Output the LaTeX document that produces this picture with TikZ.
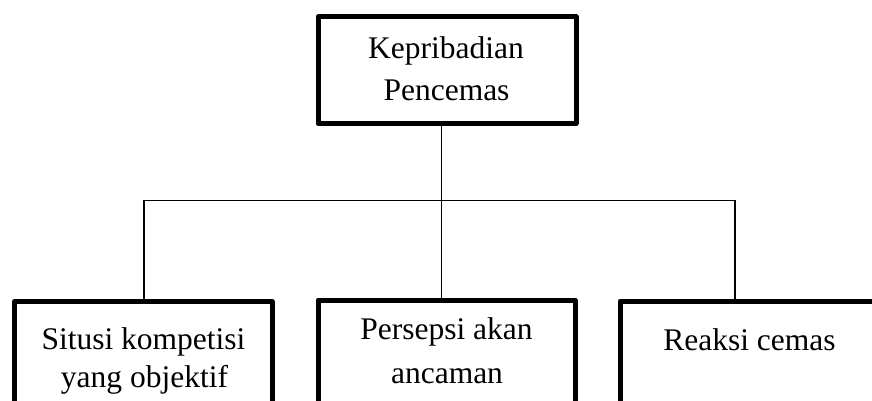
\documentclass[tikz,border=0pt]{standalone}
\usepackage{fontspec}
\setmainfont{Liberation Serif}
\begin{document}
\begin{tikzpicture}[x=1pt,y=-1pt,
  boxstyle/.style={draw=black,line width=5pt,line join=round,rectangle,inner sep=0pt,fill=white},
  conn/.style={draw=black,line width=1.6pt},
  lbl/.style={anchor=base,inner sep=0pt,font=\fontsize{31.5}{42}\selectfont}]
\useasboundingbox (0,0) rectangle (872,401);
\clip (0,0) rectangle (872,401);
\fill[white] (0,0) rectangle (872,401);
% boxes
\node[boxstyle,minimum width=258pt,minimum height=106.5pt] (top) at (447,70.25) {};
\node[boxstyle,minimum width=257.5pt,minimum height=140pt] (b1) at (143.25,371.5) {};
\node[boxstyle,minimum width=257pt,minimum height=140pt] (b2) at (446.5,370) {};
\node[boxstyle,minimum width=260pt,minimum height=140pt] (b3) at (750,371) {};
% junction points
\coordinate (jl) at (144,200.5);
\coordinate (jc) at (441.5,200.5);
\coordinate (jr) at (735,200.5);
% connectors
\draw[conn] (top.south -| jc) -- (b2.north -| jc);
\draw[conn] (b1.north -| jl) -- (jl) -- (jr) -- (b3.north -| jr);
% labels
\node[lbl] (t1) at (446,59) {Kepribadian};
\node[lbl] (t2) at (446.5,101) {Pencemas};
\node[lbl] (l1a) at (143.5,349) {Situsi kompetisi};
\node[lbl] (l1b) at (144.5,387) {yang objektif};
\node[lbl] (l2a) at (446.5,339) {Persepsi akan};
\node[lbl] (l2b) at (447,383) {ancaman};
\node[lbl] (l3) at (749.5,350) {Reaksi cemas};
\end{tikzpicture}
\end{document}
